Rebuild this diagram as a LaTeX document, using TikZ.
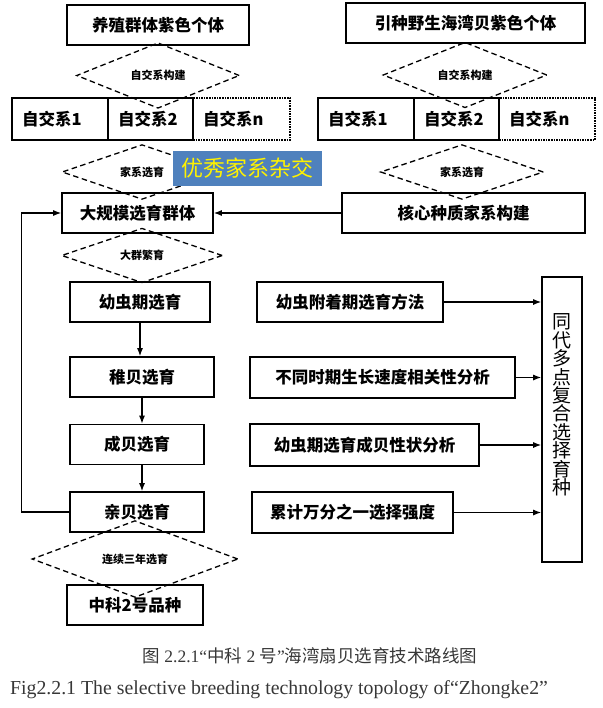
\documentclass[tikz,border=0pt]{standalone}
\usepackage{fontspec}
\setmainfont{Liberation Serif}
\newfontfamily\cjk{Noto Sans CJK SC}
\usetikzlibrary{arrows.meta, shapes.geometric}
\definecolor{hlblue}{RGB}{79,129,189}
\definecolor{capgray}{RGB}{55,55,55}

\begin{document}
\begin{tikzpicture}[x=1pt, y=-1pt,
    box/.style={draw, line width=1.6pt, inner sep=0pt, minimum height=40pt,
        font=\cjk\bfseries\fontsize{16.5}{18}\selectfont},
    cell/.style={box, minimum height=42pt, align=left, inner xsep=10pt},
    diam/.style={diamond, draw, line width=1.3pt, dash pattern=on 5.5pt off 3.5pt,
        inner sep=0pt, font=\cjk\bfseries\fontsize{11}{12}\selectfont},
    arrow/.style={-{Latex[length=8pt,width=6pt]}, line width=1.2pt}]
    \useasboundingbox (0,0) rectangle (602,708);

    % Draw the two source populations
    \node[box, minimum width=182pt] (yangzhi) at (158,25) {养殖群体紫色个体};
    \node[box, minimum width=239pt] (yinzhong) at (465.5,23) {引种野生海湾贝紫色个体};

    % Draw the inbred line diamonds
    \node[diam, minimum width=163pt, minimum height=45pt] (zjl) at (158,75.5) {自交系构建};
    \node[diam, minimum width=164pt, minimum height=44pt] (zjr) at (465,75) {自交系构建};

    % Draw the inbred line rows (the n-th cell is dotted)
    \node[cell, densely dotted, text width=77pt] (ln) at (241.5,119) {自交系n};
    \node[cell, text width=76pt] (l1) at (60,119) {自交系1};
    \node[cell, text width=65pt] (l2) at (150.5,119) {自交系2};
    \node[cell, densely dotted, text width=76pt] (rn) at (547,119) {自交系n};
    \node[cell, text width=76pt] (r1) at (366,119) {自交系1};
    \node[cell, text width=65pt] (r2) at (456.5,119) {自交系2};

    % Draw the family selection diamonds
    \node[diam, minimum width=160pt, minimum height=42pt] (jxl) at (142,172) {家系选育};
    \node[diam, minimum width=163pt, minimum height=42pt] (jxr) at (462,172) {家系选育};

    % Draw the highlight label
    \node[fill=hlblue, text=yellow, inner sep=0pt, minimum width=149pt, minimum height=35pt,
        font=\cjk\fontsize{22}{24}\selectfont] (youxiu) at (247.5,168.5) {优秀家系杂交};

    % Draw the selection population and core germplasm
    \node[box, minimum width=151pt] (dagui) at (137.5,213) {大规模选育群体};
    \node[box, minimum width=243pt] (hexin) at (463.5,213) {核心种质家系构建};
    \draw[arrow] (hexin.west) -- (dagui.east);

    % Draw the mass breeding diamond
    \node[diam, minimum width=161pt, minimum height=45pt] (daqun) at (142,255.5) {大群繁育};

    % Draw the selection stages
    \node[box, minimum width=140pt] (youchong) at (140,302) {幼虫期选育};
    \node[box, minimum width=144pt] (zhibei) at (142,377) {稚贝选育};
    \node[box, minimum width=134pt] (chengbei) at (137,444.5) {成贝选育};
    \node[box, minimum width=134pt] (qinbei) at (137,512) {亲贝选育};
    \draw[arrow] (youchong.south) -- (youchong.south |- zhibei.north);
    \draw[arrow] (zhibei.south) -- (zhibei.south |- chengbei.north);
    \draw[arrow] (chengbei.south -| zhibei.south) -- (zhibei.south |- qinbei.north);

    % Draw the feedback loop
    \draw[arrow] (qinbei.west) -- ++(-48,0) |- (dagui.west);

    % Draw the final variety
    \node[diam, minimum width=206pt, minimum height=52pt] (lianxu) at (135,559) {连续三年选育};
    \node[box, minimum width=136pt] (zhongke) at (135,605) {中科2号品种};

    % Draw the methods and the combined selection box
    \node[box, minimum width=186pt] (ma) at (350,302) {幼虫附着期选育方法};
    \node[box, minimum width=265pt, minimum height=41pt] (mb) at (382.5,377.5) {不同时期生长速度相关性分析};
    \node[box, minimum width=229pt, minimum height=42pt] (mc) at (364.5,445) {幼虫期选育成贝性状分析};
    \node[box, minimum width=201pt, minimum height=41pt] (md) at (352.5,512.5) {累计万分之一选择强度};
    \node[box, minimum width=40pt, minimum height=285pt] (tongdai) at (562,419.5) {};
    \node[font=\cjk\fontsize{19}{18.4}\selectfont, align=center, inner sep=0pt] (tdtext)
        at (562,405) {同\\代\\多\\点\\复\\合\\选\\择\\育\\种};
    \foreach \m in {ma, mb, mc, md}
        \draw[arrow] (\m.east) -- (\m.east -| tongdai.west);

    % Draw the captions
    \node[text=capgray, font=\fontsize{17.5}{20}\selectfont] (capcn) at (310,656)
        {{\cjk 图} 2.2.1“{\cjk 中科} 2 {\cjk 号}”{\cjk 海湾扇贝选育技术路线图}};
    \node[text=capgray, font=\fontsize{19.8}{22}\selectfont] (capen) at (279,690)
        {Fig2.2.1 The selective breeding technology topology of“Zhongke2”};
\end{tikzpicture}
\end{document}
